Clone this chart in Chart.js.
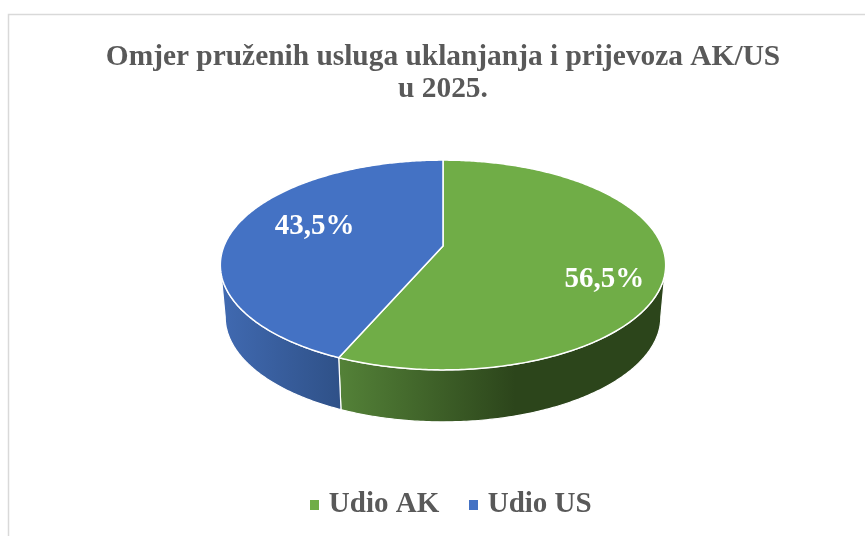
<!DOCTYPE html>
<html>
<head>
<meta charset="utf-8">
<style>html,body{margin:0;padding:0;background:#fff}canvas{display:block}</style>
<script src="https://cdn.jsdelivr.net/npm/chart.js@4/dist/chart.umd.js"></script>
</head>
<body>
<canvas id="c" width="865" height="536"></canvas>
<script>
const categories = ['Udio AK', 'Udio US'];
const shares = [56.5, 43.5];
const valueLabels = ['56,5%', '43,5%'];
const titleLines = ['Omjer pruženih usluga uklanjanja i prijevoza AK/US', 'u 2025.'];
const sliceColors = ['#70AD47', '#4472C4'];
const wallStops = [['#548238', '#2C451B'], ['#4069B0', '#2F5188']];
const wallSpan = [[-0.48, 0.33], [-1, -0.47]];
const labelRadius = [0.757, 0.65];
const labelTurnDeg = [11, 8.5];

const SERIF = '"Liberation Serif", "Times New Roman", serif';
const INK = '#595959';
const view = {centerY: 246, squash: 0.4633, persp: 0.181, depth: 52, taper: 0.978, labelDrop: 2.5, legendShift: 10};

function project(arc, a, lowered) {
  const R = arc.outerRadius, u = Math.cos(a), v = Math.sin(a);
  const w = 1 - view.persp * v;
  const t = lowered ? view.taper : 1;
  return {
    x: arc.x + t * R * u / w,
    y: view.centerY + view.squash * R * v / w + (lowered ? view.depth : 0)
  };
}
function rimPath(ctx, arc, from, to, lowered, first) {
  const n = Math.max(2, Math.ceil(Math.abs(to - from) * 90));
  for (let i = 0; i <= n; i++) {
    const p = project(arc, from + (to - from) * i / n, lowered);
    if (first && i === 0) ctx.moveTo(p.x, p.y); else ctx.lineTo(p.x, p.y);
  }
}

// Slices go through the library's arc elements; only their projection changes.
Chart.elements.ArcElement.prototype.draw = function (ctx) {
  const o = this.options;
  ctx.save();
  ctx.beginPath();
  ctx.moveTo(this.x, view.centerY);
  rimPath(ctx, this, this.startAngle, this.endAngle, false, false);
  ctx.closePath();
  ctx.fillStyle = o.backgroundColor;
  ctx.fill();
  ctx.lineWidth = o.borderWidth;
  ctx.strokeStyle = o.borderColor;
  ctx.lineJoin = 'round';
  ctx.stroke();
  ctx.restore();
};

const pie3d = {
  id: 'pie3d',
  afterLayout(chart) {
    chart.legend.left += view.legendShift;
    chart.legend.right += view.legendShift;
  },
  beforeDraw(chart) {
    const ctx = chart.ctx;
    ctx.save();
    ctx.fillStyle = '#fff';
    ctx.fillRect(0, 0, chart.width, chart.height);
    ctx.strokeStyle = '#d9d9d9';
    ctx.lineWidth = 1.5;
    ctx.strokeRect(8.5, 14.5, chart.width + 20, chart.height + 20);
    ctx.restore();
  },
  beforeDatasetsDraw(chart) {
    const ctx = chart.ctx, arcs = chart.getDatasetMeta(0).data;
    const lim = Math.asin(view.persp);
    arcs.forEach((arc, i) => {
      const from = Math.max(arc.startAngle, lim), to = Math.min(arc.endAngle, Math.PI - lim);
      if (to <= from) return;
      const g = ctx.createLinearGradient(arc.x + wallSpan[i][0] * arc.outerRadius, 0,
                                         arc.x + wallSpan[i][1] * arc.outerRadius, 0);
      g.addColorStop(0, wallStops[i][0]);
      g.addColorStop(1, wallStops[i][1]);
      ctx.save();
      ctx.beginPath();
      rimPath(ctx, arc, from, to, false, true);
      rimPath(ctx, arc, to, from, true, false);
      ctx.closePath();
      ctx.fillStyle = g;
      ctx.fill();
      ctx.strokeStyle = '#fff';
      ctx.lineWidth = 1.2;
      ctx.stroke();
      ctx.restore();
    });
  },
  afterDatasetsDraw(chart) {
    const ctx = chart.ctx, arcs = chart.getDatasetMeta(0).data;
    ctx.save();
    ctx.fillStyle = '#fff';
    ctx.font = 'bold 29px ' + SERIF;
    ctx.textAlign = 'center';
    ctx.textBaseline = 'middle';
    arcs.forEach((arc, i) => {
      const mid = (arc.startAngle + arc.endAngle) / 2 + labelTurnDeg[i] * Math.PI / 180;
      const k = labelRadius[i], u = k * Math.cos(mid), v = k * Math.sin(mid);
      const w = 1 - view.persp * v;
      ctx.fillText(valueLabels[i],
        arc.x + arc.outerRadius * u / w,
        view.centerY + view.squash * arc.outerRadius * v / w + view.labelDrop);
    });
    ctx.restore();
  }
};

function swatch(color) {
  const s = document.createElement('canvas');
  s.width = 9; s.height = 10;
  const x = s.getContext('2d');
  x.fillStyle = color;
  x.fillRect(0, 0, 9, 10);
  return s;
}

new Chart(document.getElementById('c'), {
  type: 'pie',
  plugins: [pie3d],
  data: {
    labels: categories,
    datasets: [{
      data: shares,
      backgroundColor: sliceColors,
      borderColor: '#fff',
      borderWidth: 1.5
    }]
  },
  options: {
    responsive: false,
    animation: false,
    radius: 219,
    layout: {padding: {left: 21, top: 26, bottom: 7}},
    plugins: {
      tooltip: {enabled: false},
      title: {
        display: true,
        text: titleLines,
        color: INK,
        font: {family: SERIF, size: 29.4, weight: 'bold', lineHeight: 1.1},
        padding: {top: 15, bottom: 10}
      },
      legend: {
        position: 'bottom',
        labels: {
          color: INK,
          font: {family: SERIF, size: 29, weight: 'bold'},
          usePointStyle: true,
          pointStyleWidth: 0.01,
          padding: 34,
          generateLabels(chart) {
            return Chart.overrides.pie.plugins.legend.labels.generateLabels(chart).map((item, i) => {
              item.pointStyle = swatch(sliceColors[i]);
              return item;
            });
          }
        }
      }
    }
  }
});
</script>
</body>
</html>
